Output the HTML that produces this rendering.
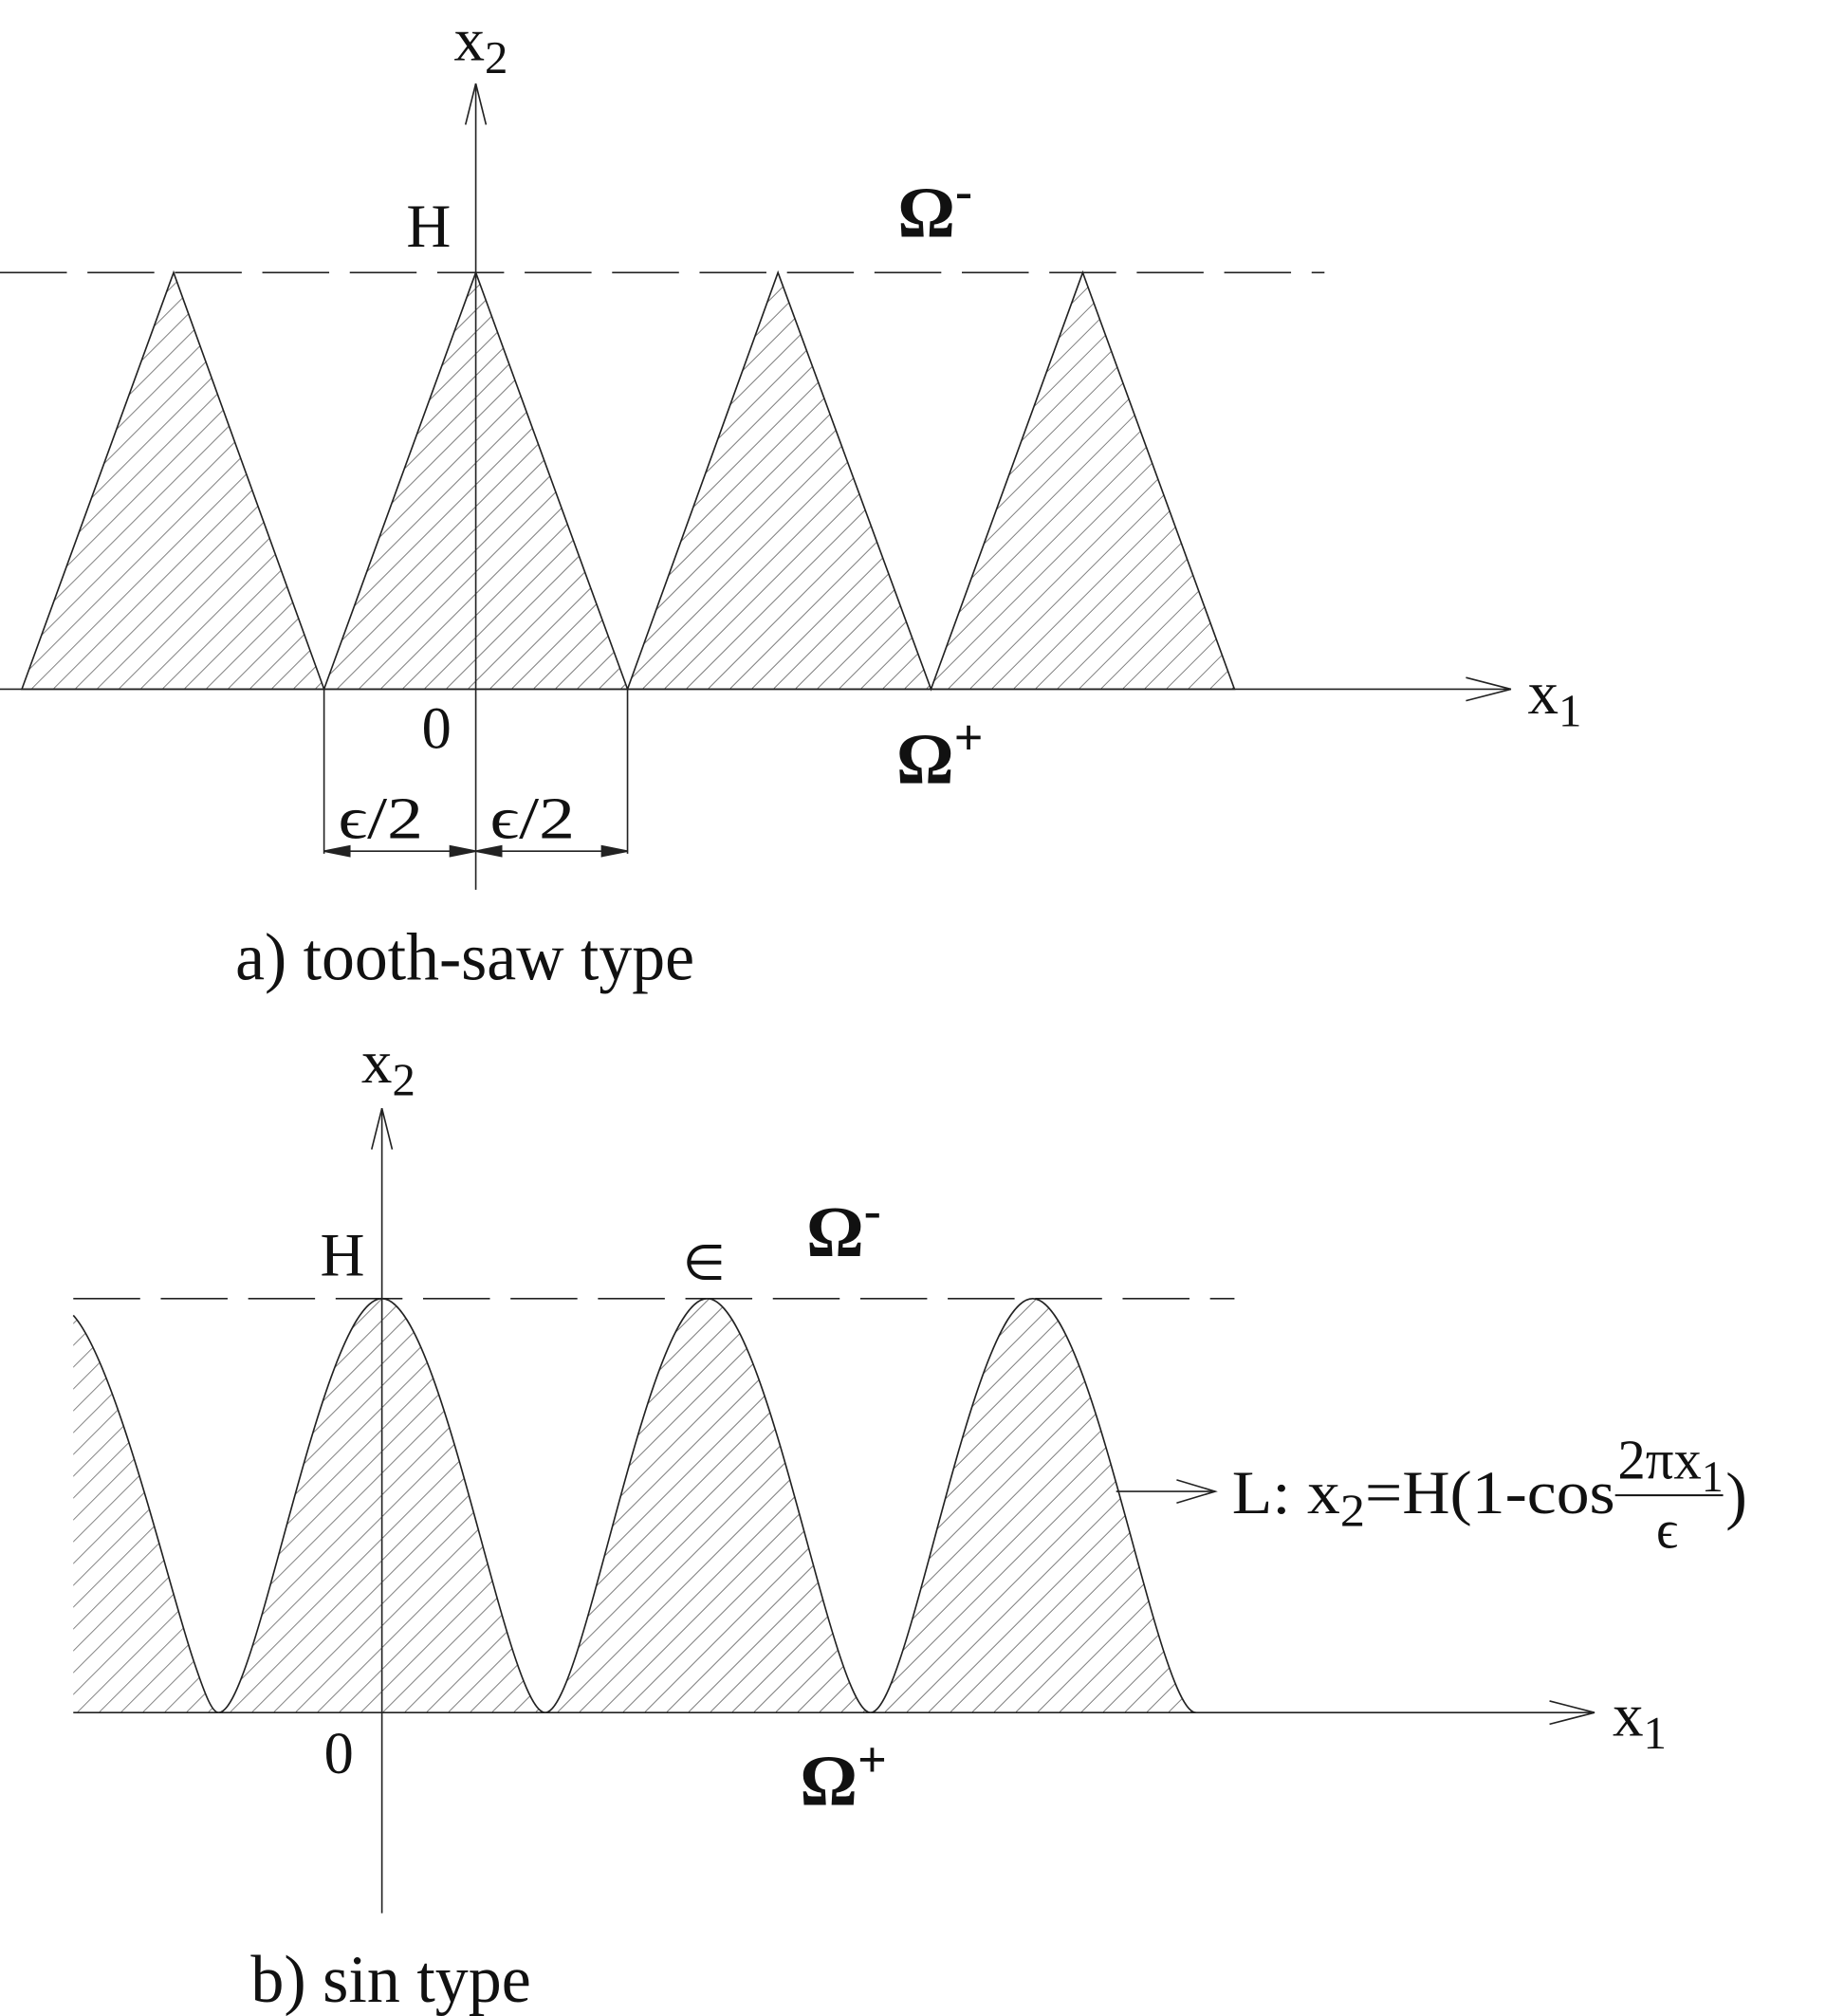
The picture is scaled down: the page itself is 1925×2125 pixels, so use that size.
<!DOCTYPE html>
<html><head><style>html,body{margin:0;padding:0;background:#fff}svg{display:block}</style></head>
<body>
<svg width="1925" height="2125" viewBox="0 0 1420 1568" preserveAspectRatio="none" xmlns="http://www.w3.org/2000/svg" font-family="Liberation Serif, serif">
<defs>
<pattern id="h" patternUnits="userSpaceOnUse" width="12" height="12" patternTransform="rotate(45)">
<line x1="0" y1="0" x2="0" y2="12" stroke="#333" stroke-width="0.9"/>
</pattern>
</defs>
<g stroke="#222" stroke-width="1.2" fill="none">
<path d="M17,536 L135,212 L252,536 L370,212 L488,536 L605,212 L724,536 L842,212 L960,536 Z" fill="url(#h)"/>
<line x1="370" y1="65" x2="370" y2="692"/>
<polyline points="362,97 370,65 378,97"/>
<line x1="0" y1="536" x2="1175" y2="536"/>
<polyline points="1140,527 1175,536 1140,545"/>
<line x1="0" y1="212" x2="1030" y2="212" stroke-dasharray="52,16"/>
<line x1="252" y1="536" x2="252" y2="664"/>
<line x1="488" y1="536" x2="488" y2="664"/>
<line x1="252" y1="662" x2="488" y2="662"/>
<path d="M252,662 L272,658 L272,666 Z M370,662 L350,658 L350,666 Z M370,662 L390,658 L390,666 Z M488,662 L468,658 L468,666 Z" fill="#222"/>
<line x1="297" y1="862" x2="297" y2="1488"/>
<polyline points="289,894 297,862 305,894"/>
<line x1="57" y1="1332" x2="1240" y2="1332"/>
<polyline points="1205,1323 1240,1332 1205,1341"/>
<line x1="57" y1="1010" x2="960" y2="1010" stroke-dasharray="52,16"/>
<line x1="868" y1="1160" x2="945" y2="1160"/>
<polyline points="915,1151 945,1160 915,1169"/>
</g>
<path fill="url(#h)" stroke="none" d="M57,1332 L57,1023 C 90,1060 130,1230 150,1290 C 160,1320 165,1332 170,1332 C 200,1332 250,1010 297,1010 C 344,1010 394,1332 424,1332 C 454,1332 503,1010 550,1010 C 597,1010 647,1332 677,1332 C 707,1332 756,1010 803,1010 C 850,1010 900,1332 930,1332 Z"/>
<path fill="none" stroke="#222" stroke-width="1.2" d="M57,1023 C 90,1060 130,1230 150,1290 C 160,1320 165,1332 170,1332 C 200,1332 250,1010 297,1010 C 344,1010 394,1332 424,1332 C 454,1332 503,1010 550,1010 C 597,1010 647,1332 677,1332 C 707,1332 756,1010 803,1010 C 850,1010 900,1332 930,1332"/>
<g fill="#111">
<text x="353" y="47" font-size="48">x<tspan font-size="36" dy="10">2</tspan></text>
<text x="316" y="192" font-size="48">H</text>
<text x="698" y="184" font-size="56" font-weight="bold">Ω<tspan font-size="40" dy="-22">-</tspan></text>
<text x="328" y="582" font-size="46">0</text>
<text x="697" y="609" font-size="56" font-weight="bold">Ω<tspan font-size="40" dy="-22">+</tspan></text>
<text x="263" y="652" font-size="46" textLength="66" lengthAdjust="spacingAndGlyphs">ϵ/2</text>
<text x="381" y="652" font-size="46" textLength="66" lengthAdjust="spacingAndGlyphs">ϵ/2</text>
<text x="1188" y="555" font-size="48">x<tspan font-size="36" dy="10">1</tspan></text>
<text x="183" y="762" font-size="52" textLength="357" lengthAdjust="spacingAndGlyphs">a) tooth-saw type</text>

<text x="281" y="842" font-size="48">x<tspan font-size="36" dy="10">2</tspan></text>
<text x="249" y="992" font-size="48">H</text>
<text x="531" y="995" font-size="38">∈</text>
<text x="627" y="977" font-size="56" font-weight="bold">Ω<tspan font-size="40" dy="-22">-</tspan></text>
<text x="252" y="1379" font-size="46">0</text>
<text x="622" y="1404" font-size="56" font-weight="bold">Ω<tspan font-size="40" dy="-22">+</tspan></text>
<text x="1254" y="1350" font-size="48">x<tspan font-size="36" dy="10">1</tspan></text>
<text x="958" y="1177" font-size="48" textLength="298" lengthAdjust="spacingAndGlyphs">L: x<tspan font-size="36" dy="10">2</tspan><tspan dy="-10">=H(1-cos</tspan></text>
<text x="1258" y="1150" font-size="44" textLength="82" lengthAdjust="spacingAndGlyphs">2πx<tspan font-size="34" dy="10">1</tspan></text>
<line x1="1256" y1="1163" x2="1340" y2="1163" stroke="#111" stroke-width="1.5"/>
<text x="1288" y="1204" font-size="42">ϵ</text>
<text x="1342" y="1180" font-size="50">)</text>
<text x="195" y="1557" font-size="52" textLength="218" lengthAdjust="spacingAndGlyphs">b) sin type</text>
</g>
</svg>
</body></html>
